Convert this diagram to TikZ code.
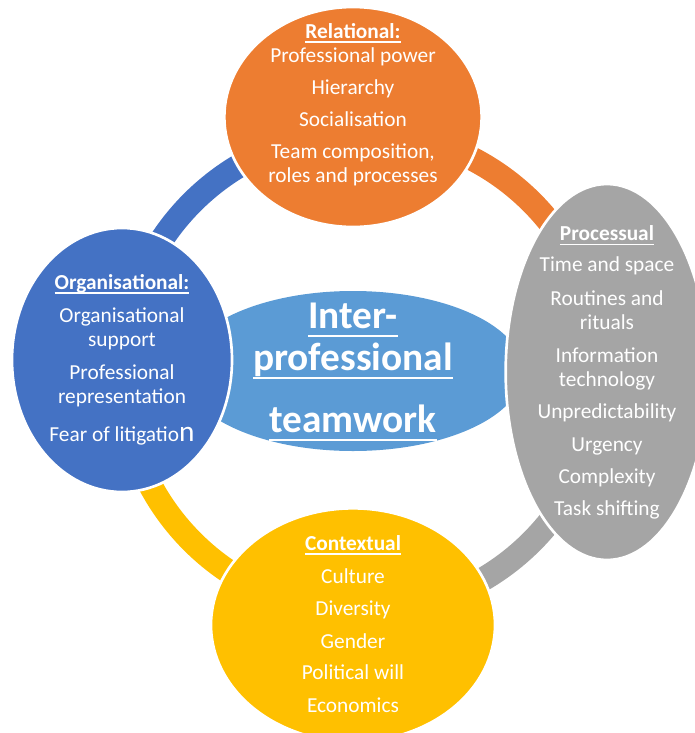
\documentclass[tikz,border=0pt]{standalone}
\usepackage{fontspec}
\setmainfont{Carlito}
\usetikzlibrary{shapes.geometric}

\definecolor{relorange}{HTML}{ED7D31}
\definecolor{procgray}{HTML}{A5A5A5}
\definecolor{ctxyellow}{HTML}{FFC000}
\definecolor{orgblue}{HTML}{4472C4}
\definecolor{hubblue}{HTML}{5B9BD5}

% underline at a fixed depth below the baseline (descenders ignored)
\newsavebox{\ulbox}
\newcommand{\ulword}[3]{\sbox\ulbox{#3}\rlap{\rule[-#1]{\wd\ulbox}{#2}}\usebox\ulbox}
\newcommand{\grouptitle}[1]{\ulword{3.45pt}{0.9pt}{\bfseries #1}}
\newcommand{\hubline}[1]{\ulword{6.75pt}{1.6pt}{#1}}

\tikzset{
  factor/.style={ellipse, draw=white, line width=2pt, inner sep=0pt},
  % base = baseline of the last line
  factortext/.style={text=white, align=center, anchor=base, inner sep=0pt,
    font=\fontsize{16}{18}\selectfont},
  ringpart/.style={line width=18pt}
}

\begin{document}
\begin{tikzpicture}[x=0.75pt,y=0.75pt,yscale=-1,xscale=1]
                \useasboundingbox (0,0) rectangle (695,733);
                \coordinate (ring) at (362,372);
                % ring behind the ellipses, one coloured quarter per gap
                \draw [ringpart, relorange] (ring) ++(-90:240) arc [start angle=-90, end angle=0, radius=240];
                \draw [ringpart, procgray] (ring) ++(0:240) arc [start angle=0, end angle=90, radius=240];
                \draw [ringpart, ctxyellow] (ring) ++(90:240) arc [start angle=90, end angle=180, radius=240];
                \draw [ringpart, orgblue] (ring) ++(180:240) arc [start angle=180, end angle=270, radius=240];
                % ellipses
                \node [factor, draw=none, fill=hubblue, minimum width=255pt, minimum height=120pt] (hub) at (353,371) {};
                \node [factor, fill=relorange, minimum width=193pt, minimum height=165pt] (relational) at (353,117) {};
                \node [factor, fill=procgray, minimum width=152pt, minimum height=282pt] (processual) at (607,372) {};
                \node [factor, fill=ctxyellow, minimum width=213pt, minimum height=175pt] (contextual) at (353,625) {};
                \node [factor, fill=orgblue, minimum width=165pt, minimum height=198pt] (organisational) at (122,360) {};
                % texts
                \node [factortext, font=\bfseries\fontsize{29.5}{31.5}\selectfont] (hub-text) at (353,432)
                  {\hubline{Inter-}\\ \hubline{professional}\\[15pt] \hubline{teamwork}};
                \node [factortext] (relational-text) at (353,182)
                  {\grouptitle{Relational:}\\ Professional power\\[6pt] Hierarchy\\[6pt] Socialisation\\[6pt] Team composition,\\ roles and processes};
                \node [factortext] (processual-text) at (607,515)
                  {\grouptitle{Processual}\\[5pt] Time and space\\[7.5pt] Routines and\\ rituals\\[6.75pt] Information\\ technology\\[6pt] Unpredictability\\[6.75pt] Urgency\\[6pt] Complexity\\[6pt] Task shifting};
                \node [factortext] (organisational-text) at (122,441)
                  {\grouptitle{Organisational:}\\[6.75pt] Organisational\\ support\\[6.75pt] Professional\\ representation\\[10.5pt] Fear of litigatio{\fontsize{22}{22}\selectfont n}};
                \node [factortext] (contextual-text) at (353,712)
                  {\grouptitle{Contextual}\\[6.75pt] Culture\\[6pt] Diversity\\[6.75pt] Gender\\[5.25pt] Political will\\[6.75pt] Economics};
            \end{tikzpicture}
\end{document}
